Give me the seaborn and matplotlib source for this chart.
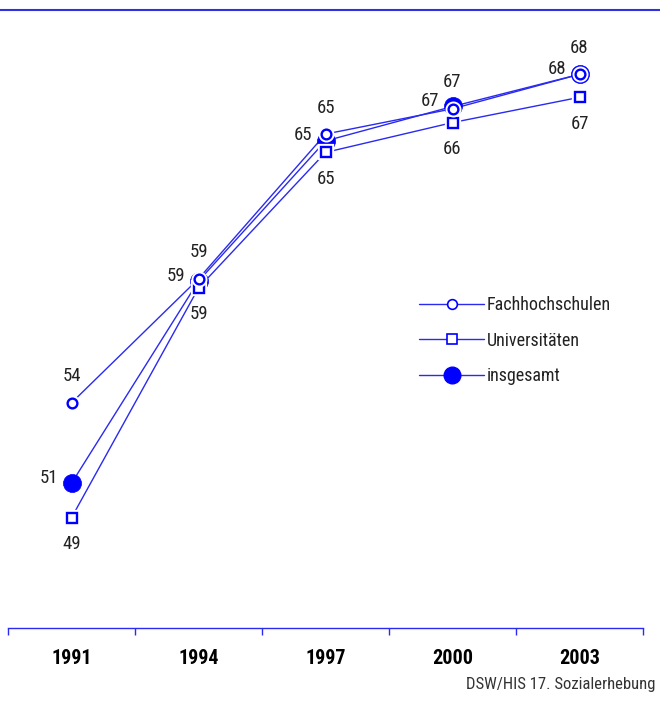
import matplotlib
matplotlib.use("Agg")
import matplotlib.pyplot as plt
from matplotlib.lines import Line2D
import seaborn as sns
import pandas as pd

# values
YEARS = ["1991", "1994", "1997", "2000", "2003"]
FH = [54.0, 59.4, 65.7, 66.8, 68.3]
UNI = [49.0, 59.0, 64.9, 66.2, 67.3]
TOTAL = [50.5, 59.3, 65.4, 66.9, 68.3]

# printed labels
FH_LABELS = ["54", "59", "65", "67", "68"]
UNI_LABELS = ["49", "59", "65", "66", "67"]
TOTAL_LABELS = ["51", "59", "65", "67", "68"]

SERIES_NAMES = ["Fachhochschulen", "Universitäten", "insgesamt"]
SOURCE = "DSW/HIS 17. Sozialerhebung"

BLUE = "#0000ff"
LINE_BLUE = "#2a2af0"
TEXT = "#222222"

W, H = 660, 721


def main():
    sns.set_theme(style="white")
    plt.rcParams["font.family"] = ["Roboto Condensed", "DejaVu Sans"]

    df = pd.DataFrame({"x": range(len(YEARS)), "fh": FH, "uni": UNI, "tot": TOTAL})

    fig = plt.figure(figsize=(W / 100, H / 100), dpi=100)
    ax = fig.add_axes([8 / W, (H - 628) / H, 635 / W, (628 - 10) / H])

    # connecting lines
    for col in ["fh", "uni", "tot"]:
        sns.lineplot(data=df, x="x", y=col, ax=ax, color=LINE_BLUE, lw=1, zorder=2)

    # markers: total underneath, then squares, then circles (with white halo)
    sns.lineplot(data=df, x="x", y="tot", ax=ax, ls="none", marker="o", ms=13,
                 mfc=BLUE, mec=BLUE, mew=0.5, zorder=3)
    sns.lineplot(data=df, x="x", y="uni", ax=ax, ls="none", marker="s", ms=7,
                 mfc="white", mec="white", mew=4.5, zorder=4)
    sns.lineplot(data=df, x="x", y="uni", ax=ax, ls="none", marker="s", ms=7,
                 mfc="white", mec=BLUE, mew=1.7, zorder=5)
    sns.lineplot(data=df, x="x", y="fh", ax=ax, ls="none", marker="o", ms=7,
                 mfc="white", mec="white", mew=4.5, zorder=6)
    sns.lineplot(data=df, x="x", y="fh", ax=ax, ls="none", marker="o", ms=7,
                 mfc="white", mec=BLUE, mew=1.7, zorder=7)

    # value labels
    for i in range(len(YEARS)):
        ax.annotate(FH_LABELS[i], (i, FH[i]), xytext=(0, 19), textcoords="offset points",
                    ha="center", va="center", fontsize=13.5, color=TEXT)
        ax.annotate(UNI_LABELS[i], (i, UNI[i]), xytext=(0, -19), textcoords="offset points",
                    ha="center", va="center", fontsize=13.5, color=TEXT)
        ax.annotate(TOTAL_LABELS[i], (i, TOTAL[i]), xytext=(-16, 4), textcoords="offset points",
                    ha="center", va="center", fontsize=13.5, color=TEXT)

    ax.set_xlim(-0.5, len(YEARS) - 0.5)
    ax.set_ylim(44.2, 71.1)
    ax.set_xlabel("")
    ax.set_ylabel("")
    ax.set_yticks([])

    # boundary ticks, labels centred between them
    ax.set_xticks([i - 0.5 for i in range(len(YEARS) + 1)])
    ax.set_xticklabels([])
    ax.set_xticks(range(len(YEARS)), minor=True)
    ax.set_xticklabels(YEARS, minor=True, fontsize=14.5, fontweight="bold", color="black")
    ax.tick_params(axis="x", which="major", direction="out", length=5, width=1,
                   color=LINE_BLUE, bottom=True)
    ax.tick_params(axis="x", which="minor", length=0, pad=15, bottom=True)

    for side in ["left", "right", "top"]:
        ax.spines[side].set_visible(False)
    ax.spines["bottom"].set_color(LINE_BLUE)
    ax.spines["bottom"].set_linewidth(1)
    ax.set_facecolor("white")

    handles = [
        Line2D([], [], color=LINE_BLUE, lw=1, marker="o", ms=7, mfc="white", mec=BLUE, mew=1.2),
        Line2D([], [], color=LINE_BLUE, lw=1, marker="s", ms=7, mfc="white", mec=BLUE, mew=1.2),
        Line2D([], [], color=LINE_BLUE, lw=1, marker="o", ms=12, mfc=BLUE, mec=BLUE),
    ]
    fig.legend(handles, SERIES_NAMES, loc="upper left",
               bbox_to_anchor=(410 / W, 1 - 287 / H), frameon=False, fontsize=13,
               handlelength=3.6, handletextpad=0.15, labelspacing=0.97,
               borderpad=0, numpoints=1, labelcolor=TEXT)

    # top rule and source
    fig.add_artist(Line2D([0, 1], [1 - 9.5 / H] * 2, color="#3030e0", lw=1.5))
    fig.text(655 / W, 1 - 685 / H, SOURCE, ha="right", va="center", fontsize=12, color="#333333")

    fig.savefig("out.png", dpi=100, facecolor="white")


if __name__ == "__main__":
    main()
